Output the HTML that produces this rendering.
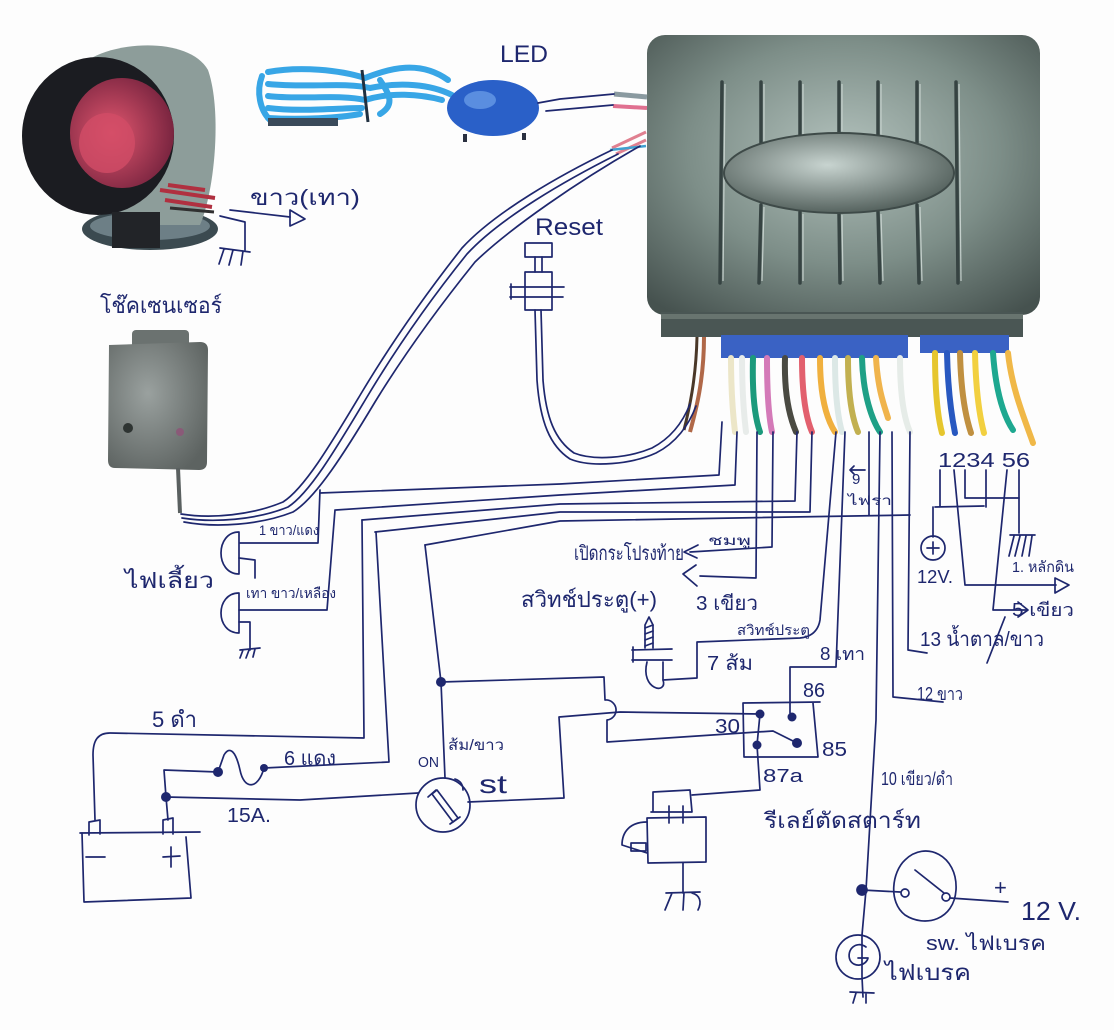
<!DOCTYPE html>
<html><head><meta charset="utf-8">
<style>
html,body{margin:0;padding:0;background:#fff;}
svg{display:block;}
text{font-family:"Liberation Sans","DejaVu Sans","Noto Sans CJK SC",sans-serif;fill:#1e276e;}
.k{fill:none;stroke:#1e276e;stroke-width:1.7;stroke-linecap:round;stroke-linejoin:round;}
.w{fill:none;stroke-linecap:round;}
</style></head><body>
<svg width="1114" height="1030" viewBox="0 0 1114 1030" xmlns="http://www.w3.org/2000/svg">
<defs>
 <radialGradient id="boxg" cx="0.5" cy="0.42" r="0.72">
  <stop offset="0" stop-color="#b2c1bc"/>
  <stop offset="0.55" stop-color="#7d8e88"/>
  <stop offset="1" stop-color="#46524f"/>
 </radialGradient>
 <radialGradient id="ovg" cx="0.45" cy="0.4" r="0.6">
  <stop offset="0" stop-color="#c8d4d0"/>
  <stop offset="1" stop-color="#56635f"/>
 </radialGradient>
 <radialGradient id="sens" cx="0.4" cy="0.4" r="0.7">
  <stop offset="0" stop-color="#9aa19f"/>
  <stop offset="1" stop-color="#5d6361"/>
 </radialGradient>
 <radialGradient id="redg" cx="0.4" cy="0.5" r="0.6">
  <stop offset="0" stop-color="#e0566e"/>
  <stop offset="1" stop-color="#7a2540"/>
 </radialGradient>
</defs>
<rect width="1114" height="1030" fill="#fdfdfd"/>

<!-- SIREN -->
<ellipse cx="150" cy="229" rx="68" ry="21" fill="#3b4a50"/>
<ellipse cx="150" cy="226" rx="60" ry="14" fill="#6d7f86"/>
<path d="M88,60 C120,40 190,38 208,70 C222,110 215,190 200,225 L120,225 Z" fill="#8d9d9a"/>
<ellipse cx="98" cy="136" rx="76" ry="79" fill="#1b1c21"/>
<ellipse cx="122" cy="133" rx="52" ry="55" fill="url(#redg)"/>
<ellipse cx="107" cy="143" rx="28" ry="30" fill="#d24c66" opacity="0.8"/>
<rect x="112" y="212" width="48" height="36" fill="#222428"/>
<path d="M160,190 L215,198 M165,200 L212,207 M168,185 L205,190" stroke="#b03040" stroke-width="4" fill="none"/>
<path d="M170,208 L214,212" stroke="#303030" stroke-width="3" fill="none"/>

<!-- LED photo -->
<g class="w" stroke="#38a6e6" stroke-width="6">
 <path d="M268,72 C300,66 340,70 365,78 C390,68 420,60 448,80"/>
 <path d="M268,84 C310,88 345,82 370,88 C400,82 430,84 452,95"/>
 <path d="M268,96 C300,100 340,94 365,100 C390,92 420,94 442,100"/>
 <path d="M268,108 C300,112 340,108 362,108"/>
 <path d="M268,118 C300,120 340,118 360,114"/>
 <path d="M262,76 C256,92 260,110 270,120"/>
 <path d="M380,80 C390,95 395,105 380,114"/>
</g>
<rect x="268" y="118" width="70" height="8" fill="#3a4a5a"/>
<path d="M362,70 L368,122" stroke="#203040" stroke-width="3"/>
<ellipse cx="493" cy="108" rx="46" ry="28" fill="#2a60c8"/>
<ellipse cx="480" cy="100" rx="16" ry="9" fill="#5a8ee0"/>
<path d="M465,134 L465,142 M524,133 L524,140" stroke="#2a3040" stroke-width="4"/>

<!-- CONTROL BOX -->
<rect x="647" y="35" width="393" height="280" rx="18" fill="url(#boxg)"/>
<rect x="661" y="312" width="362" height="25" fill="#4a5654"/>
<rect x="661" y="314" width="362" height="5" fill="#68746f"/>
<g stroke="#364342" stroke-width="3.5" stroke-linecap="round" fill="none">
 <path d="M722,82 L720,283"/>
 <path d="M761,82 L761,143 M761,205 L759,283"/>
 <path d="M800,82 L800,138 M800,212 L800,283"/>
 <path d="M839,82 L839,133 M839,213 L840,283"/>
 <path d="M878,82 L878,138 M878,212 L880,283"/>
 <path d="M917,82 L917,143 M917,205 L919,283"/>
 <path d="M956,82 L958,283"/>
</g>
<g stroke="#c5d0cc" stroke-width="1.2" fill="none">
 <path d="M725,84 L723,281"/><path d="M764,84 L764,141 M764,207 L762,281"/>
 <path d="M803,84 L803,136 M803,214 L803,281"/><path d="M842,84 L842,131 M842,215 L843,281"/>
 <path d="M881,84 L881,136 M881,214 L883,281"/><path d="M920,84 L920,141 M920,207 L922,281"/>
 <path d="M959,84 L961,281"/>
</g>
<ellipse cx="839" cy="173" rx="115" ry="40" fill="url(#ovg)" stroke="#3e4a48" stroke-width="2"/>
<rect x="721" y="335" width="187" height="23" fill="#3a62c4"/>
<rect x="920" y="335" width="89" height="18" fill="#3a62c4"/>
<!-- colored wires -->
<g class="w" stroke-width="6">
 <path d="M731,358 C731,395 733,415 735,432" stroke="#ece6c8"/>
 <path d="M742,358 C742,395 744,415 746,432" stroke="#e8ecea"/>
 <path d="M753,358 C752,395 755,418 760,432" stroke="#1c9a7c"/>
 <path d="M767,358 C767,395 769,418 772,432" stroke="#d47ab8"/>
 <path d="M785,358 C784,395 790,418 796,432" stroke="#4a4a42"/>
 <path d="M802,358 C802,395 806,418 812,432" stroke="#e2606e"/>
 <path d="M820,358 C820,395 826,418 835,432" stroke="#f0b03e"/>
 <path d="M835,358 C835,395 838,418 842,432" stroke="#dce8e6"/>
 <path d="M848,358 C848,395 852,418 858,432" stroke="#c2b050"/>
 <path d="M862,358 C863,395 872,420 880,432" stroke="#1ea086"/>
 <path d="M876,358 C878,390 884,405 888,418" stroke="#f0b44c"/>
 <path d="M900,358 C900,395 904,418 910,432" stroke="#e6ece8"/>
 <path d="M935,353 C935,395 938,418 942,433" stroke="#e6c62e"/>
 <path d="M947,353 C948,395 952,418 955,433" stroke="#2858c0"/>
 <path d="M960,353 C961,395 966,418 971,433" stroke="#c09040"/>
 <path d="M975,353 C976,395 980,418 984,433" stroke="#f2d040"/>
 <path d="M993,353 C996,395 1005,418 1013,430" stroke="#1ea890"/>
 <path d="M1008,353 C1012,390 1025,420 1033,443" stroke="#f0b848"/>
</g>
<path d="M704,337 C704,380 696,410 690,432" stroke="#b06848" stroke-width="4" fill="none"/>
<path d="M697,337 C696,380 689,410 684,430" stroke="#4a3828" stroke-width="3" fill="none"/>
<!-- LED wire stubs -->
<path d="M614,94 L647,97" stroke="#8a9aa0" stroke-width="5"/>
<path d="M613,106 L647,108" stroke="#e07090" stroke-width="4"/>
<path d="M612,148 L646,132 M616,154 L646,140" stroke="#e08090" stroke-width="3"/>
<path d="M610,150 L646,146" stroke="#40a0d0" stroke-width="2.5"/>

<!-- SENSOR -->
<rect x="132" y="330" width="57" height="18" rx="4" fill="#6b7270"/>
<path d="M109,345 L200,342 Q208,342 208,350 L207,462 Q207,470 199,470 L115,468 Q108,468 108,460 Z" fill="url(#sens)"/>
<circle cx="128" cy="428" r="5" fill="#2e3432"/>
<circle cx="180" cy="432" r="4" fill="#8a5a78"/>
<path d="M178,468 L180,513" stroke="#5a6060" stroke-width="4"/>

<!-- INK DRAWING -->
<g class="k">
 <path d="M230,210 L290,217"/>
 <path d="M290,210 L305,219 L290,226 Z"/>
 <path d="M220,216 L245,222 L245,250"/>
 <path d="M220,248 L250,252 M224,249 L219,264 M233,250 L229,265 M243,251 L241,265"/>
 <path d="M538,103 L560,99 L614,94"/>
 <path d="M546,111 L613,105"/>
 <path d="M612,150 C560,175 495,212 462,248 C425,295 392,342 362,392 C332,442 305,488 283,502 C252,515 212,519 181,514"/>
 <path d="M618,154 C566,180 500,218 467,254 C430,300 397,347 367,397 C337,447 310,493 288,507 C256,520 214,523 182,518"/>
 <path d="M640,146 C580,180 510,228 475,262 C438,308 405,353 375,402 C345,452 316,498 293,512 C260,525 216,528 184,522"/>
 <rect x="525" y="243" width="27" height="14"/>
 <path d="M535,257 L535,272 M542,257 L542,272"/>
 <rect x="525" y="272" width="27" height="38"/>
 <path d="M510,287 L564,287 M510,297 L563,297 M511,284 L511,299"/>
 <path d="M535,310 L537,380 C540,422 550,446 570,459 C592,468 632,464 656,453 C676,443 689,425 696,406"/>
 <path d="M541,310 L543,380 C546,418 555,440 574,453 C594,461 628,458 652,448 C671,438 683,422 690,404"/>
 <path d="M320,493 L560,484 L719,475 L722,422"/>
 <path d="M336,510 L560,495 L735,485 L737,432"/>
 <path d="M362,520 L560,504 L795,501 L797,432"/>
 <path d="M375,532 L560,512 L810,512 L812,432"/>
 <path d="M425,545 L560,521 L910,515"/>
 <path d="M892,432 L893,697 L943,702"/>
 <path d="M910,432 L908,650 L927,653"/>
 <path d="M869,432 L869,515"/>
 <path d="M880,432 L876,720 L866,890 L862,935"/>
 <path d="M320,490 L318,543 L240,543"/>
 <path d="M335,510 L327,610 L239,610"/>
 <path d="M239,532 C215,532 215,574 239,574 Z"/>
 <path d="M239,593 C215,593 215,633 239,633 Z"/>
 <path d="M239,558 L255,560 L255,578"/>
 <path d="M239,622 L250,622 L250,650"/>
 <path d="M240,650 L260,648 M243,650 L240,658 M249,650 L246,658 M255,649 L253,657"/>
 <path d="M362,520 L364,738 L110,733 C98,733 93,740 93,755 L95,820"/>
 <path d="M376,532 L389,762 L264,768"/>
 <path d="M264,768 C258,790 244,790 240,770 C236,752 230,745 224,755 L218,772"/>
 <path d="M218,772 L164,770 L166,797"/>
 <path d="M166,797 L168,820"/>
 <path d="M80,833 L200,832"/>
 <path d="M82,833 L84,902 L191,898 L186,837"/>
 <path d="M89,835 L89,822 L100,820 L100,834"/>
 <path d="M163,834 L163,820 L173,818 L173,834"/>
 <path d="M86,857 L105,857"/>
 <path d="M163,857 L180,856 M171,847 L171,867"/>
 <path d="M166,797 L300,800 L418,793"/>
 <path d="M425,545 L441,682 L445,778"/>
 <circle cx="443" cy="805" r="27"/>
 <path d="M432,794 L437,790 L458,818 L453,822 Z"/>
 <path d="M428,797 L436,790 M450,824 L460,817"/>
 <path d="M455,779 C461,781 463,785 463,790"/>
 <path d="M468,802 L564,798 L559,717 L620,712 L760,714"/>
 <path d="M441,682 L604,677 L605,700 A9,9 0 0 1 607,720 L607,742 L773,731 L797,743"/>
 <path d="M743,703 L820,702 M743,703 L744,757 L818,757 L813,703"/>
 <path d="M790,713 L790,667 L836,667 L845,432"/>
 <path d="M760,714 L757,745"/>
 <path d="M757,745 L760,790 L692,795"/>
 <path d="M836,432 L820,620 C818,632 810,637 800,638 L697,642 L697,678 L663,680"/>
 <path d="M645,648 L645,625 L649,617 L653,625 L653,648"/>
 <path d="M645,628 L653,625 M645,634 L653,631 M645,640 L653,637 M645,646 L653,643"/>
 <path d="M632,650 L672,649 M632,660 L672,660 M633,647 L633,662"/>
 <path d="M647,662 C640,690 668,695 663,680 L663,662"/>
 <path d="M773,432 L772,547 L690,552"/>
 <path d="M698,545 L684,552 L697,558"/>
 <path d="M757,432 L756,578 L700,576"/>
 <path d="M696,565 L683,574 L697,586"/>
 <path d="M865,470 L850,470 M854,466 L850,470 L854,474"/>
 <path d="M940,470 L940,507 M935,507 L984,506 M986,470 L986,507"/>
 <path d="M933,507 L933,537"/>
 <circle cx="933" cy="548" r="12"/>
 <path d="M927,548 L939,548 M933,542 L933,554"/>
 <path d="M954,470 L965,585 L1056,585"/>
 <path d="M1055,578 L1069,585 L1055,593 Z"/>
 <path d="M965,470 L965,498 L1019,498"/>
 <path d="M1007,470 L993,610 L1026,610"/>
 <path d="M1018,602 L1028,610 L1018,617"/>
 <path d="M1019,470 L1019,533"/>
 <path d="M1010,535 L1035,535 M1014,536 L1009,556 M1020,536 L1015,556 M1026,536 L1022,556 M1032,536 L1029,556"/>
 <path d="M1005,617 L987,663"/>
 <path d="M653,812 L653,792 L690,790 L692,812 L651,812"/>
 <path d="M669,806 L669,823 M683,806 L683,823"/>
 <path d="M647,818 L706,817 L706,862 L648,863 Z"/>
 <path d="M647,822 C630,822 622,832 622,845 L647,853"/>
 <rect x="631" y="843" width="15" height="8"/>
 <path d="M683,863 L683,893"/>
 <path d="M666,893 L700,892 M672,893 L665,910 M684,893 L683,910 M692,893 C700,895 702,902 698,910"/>
 <circle cx="862" cy="890" r="5" fill="#1e276e"/>
 <path d="M862,890 L900,892"/>
 <path d="M905,860 C925,840 958,855 956,890 C954,920 925,928 905,915 C888,902 892,872 905,860 Z"/>
 <circle cx="905" cy="893" r="4"/>
 <circle cx="946" cy="897" r="4"/>
 <path d="M915,870 L944,893"/>
 <path d="M950,898 L1008,902"/>
 <circle cx="858" cy="957" r="22"/>
 <path d="M866,947 C856,940 846,950 850,960 C854,968 866,966 868,958 L858,958"/>
 <path d="M862,935 L862,977 L863,997"/>
 <path d="M850,992 L874,993 M856,993 L853,1003 M866,993 L866,1003"/>
</g>
<g fill="#1e276e">
 <circle cx="441" cy="682" r="5"/>
 <circle cx="166" cy="797" r="5"/>
 <circle cx="218" cy="772" r="5"/>
 <circle cx="264" cy="768" r="4"/>
 <circle cx="760" cy="714" r="4.5"/>
 <circle cx="792" cy="717" r="4.5"/>
 <circle cx="757" cy="745" r="4.5"/>
 <circle cx="797" cy="743" r="5"/>
</g>

<!-- TEXT -->
<text x="500" y="62" font-size="24" textLength="48" lengthAdjust="spacingAndGlyphs">LED</text>
<text x="250" y="205" font-size="22" textLength="110" lengthAdjust="spacingAndGlyphs">ขาว(เทา)</text>
<text x="100" y="313" font-size="22" textLength="122" lengthAdjust="spacingAndGlyphs">โช๊คเซนเซอร์</text>
<text x="535" y="235" font-size="24" textLength="68" lengthAdjust="spacingAndGlyphs">Reset</text>
<text x="125" y="588" font-size="22" textLength="89" lengthAdjust="spacingAndGlyphs">ไฟเลี้ยว</text>
<text x="259" y="535" font-size="14" textLength="60" lengthAdjust="spacingAndGlyphs">1 ขาว/แดง</text>
<text x="246" y="598" font-size="14" textLength="90" lengthAdjust="spacingAndGlyphs">เทา ขาว/เหลือง</text>
<text x="574" y="560" font-size="20" textLength="110" lengthAdjust="spacingAndGlyphs">เปิดกระโปรงท้าย</text>
<text x="708" y="545" font-size="13" textLength="43" lengthAdjust="spacingAndGlyphs">ชมพู</text>
<text x="521" y="607" font-size="22" textLength="136" lengthAdjust="spacingAndGlyphs">สวิทช์ประตู(+)</text>
<text x="696" y="610" font-size="20" textLength="62" lengthAdjust="spacingAndGlyphs">3 เขียว</text>
<text x="737" y="635" font-size="14" textLength="73" lengthAdjust="spacingAndGlyphs">สวิทช์ประตู</text>
<text x="707" y="670" font-size="20" textLength="46" lengthAdjust="spacingAndGlyphs">7 ส้ม</text>
<text x="820" y="660" font-size="18" textLength="45" lengthAdjust="spacingAndGlyphs">8 เทา</text>
<text x="852" y="484" font-size="15">9</text>
<text x="848" y="505" font-size="13" textLength="44" lengthAdjust="spacingAndGlyphs">ไฟรา</text>
<text x="938" y="467" font-size="20" textLength="92" lengthAdjust="spacingAndGlyphs">1234 56</text>
<text x="917" y="583" font-size="18" textLength="36" lengthAdjust="spacingAndGlyphs">12V.</text>
<text x="1012" y="572" font-size="15" textLength="62" lengthAdjust="spacingAndGlyphs">1. หลักดิน</text>
<text x="1012" y="616" font-size="18" textLength="62" lengthAdjust="spacingAndGlyphs">5 เขียว</text>
<text x="920" y="646" font-size="20" textLength="124" lengthAdjust="spacingAndGlyphs">13 น้ำตาล/ขาว</text>
<text x="917" y="700" font-size="18" textLength="46" lengthAdjust="spacingAndGlyphs">12 ขาว</text>
<text x="803" y="697" font-size="20" textLength="22" lengthAdjust="spacingAndGlyphs">86</text>
<text x="715" y="733" font-size="20" textLength="25" lengthAdjust="spacingAndGlyphs">30</text>
<text x="822" y="756" font-size="20" textLength="25" lengthAdjust="spacingAndGlyphs">85</text>
<text x="763" y="782" font-size="18" textLength="40" lengthAdjust="spacingAndGlyphs">87a</text>
<text x="881" y="785" font-size="18" textLength="72" lengthAdjust="spacingAndGlyphs">10 เขียว/ดำ</text>
<text x="764" y="828" font-size="22" textLength="157" lengthAdjust="spacingAndGlyphs">รีเลย์ตัดสตาร์ท</text>
<text x="152" y="727" font-size="22" textLength="45" lengthAdjust="spacingAndGlyphs">5 ดำ</text>
<text x="284" y="765" font-size="20" textLength="52" lengthAdjust="spacingAndGlyphs">6 แดง</text>
<text x="227" y="822" font-size="20" textLength="44" lengthAdjust="spacingAndGlyphs">15A.</text>
<text x="418" y="767" font-size="15" textLength="21" lengthAdjust="spacingAndGlyphs">ON</text>
<text x="448" y="750" font-size="15" textLength="56" lengthAdjust="spacingAndGlyphs">ส้ม/ขาว</text>
<text x="479" y="793" font-size="26" textLength="28" lengthAdjust="spacingAndGlyphs">st</text>
<text x="994" y="895" font-size="22">+</text>
<text x="1021" y="920" font-size="26" textLength="60" lengthAdjust="spacingAndGlyphs">12 V.</text>
<text x="926" y="950" font-size="20" textLength="120" lengthAdjust="spacingAndGlyphs">sw. ไฟเบรค</text>
<text x="885" y="980" font-size="22" textLength="86" lengthAdjust="spacingAndGlyphs">ไฟเบรค</text>
</svg>
</body></html>
